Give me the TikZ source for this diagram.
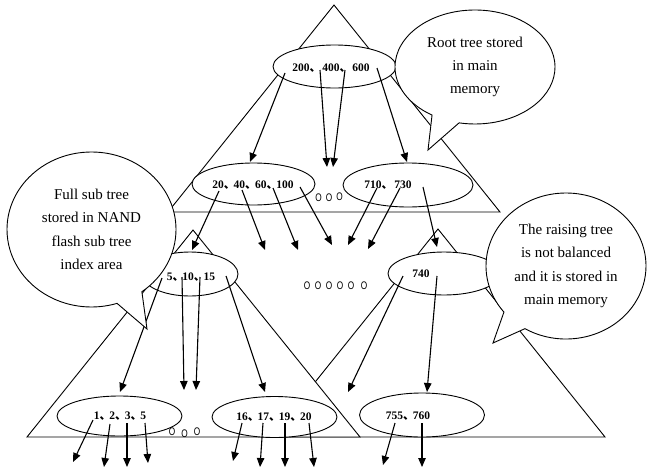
\documentclass[tikz,border=0pt]{standalone}
\usepackage{fontspec}
\setmainfont{Liberation Serif}
\newfontfamily\cjkfont{Noto Sans CJK SC}
\newfontfamily\ringfont{Liberation Sans}
\usetikzlibrary{shapes.geometric,shapes.callouts,arrows.meta}

% enumeration comma between keys
\newcommand{\dn}{{\cjkfont 、}\kern-0.15em}
% small "o" marks standing for omitted nodes
\newcommand{\ring}{\scalebox{0.75}[1]{\ringfont O}}

\tikzset{
  tri/.style={draw, line width=0.9pt, line join=miter, fill=white},
  keynode/.style={ellipse, draw, fill=white, line width=0.9pt, inner sep=0pt},
  num/.style={font=\fontsize{11.5}{13}\selectfont\bfseries, inner sep=0pt},
  link/.style={-{Triangle[length=9pt,width=7.5pt]}, line width=1.1pt},
  note/.style={ellipse callout, draw, fill=white, line width=0.9pt, inner sep=0pt,
    align=center, font=\fontsize{15}{23.3}\selectfont},
  dots/.style={inner sep=0pt, font=\fontsize{11}{13}\selectfont},
}

\begin{document}
\begin{tikzpicture}[x=1pt, y=-1pt]
\useasboundingbox (0,0) rectangle (647,471);

% ---- tree outlines ----
\draw[tri] (334,5) -- (500,212) -- (168,212) -- cycle;      % root tree
\draw[tri] (438,229) -- (605,437) -- (271,437) -- cycle;    % raising tree
\draw[tri] (193,230) -- (360,437) -- (27,437) -- cycle;     % full sub tree

% ---- index nodes ----
\node[keynode, minimum width=123pt, minimum height=43pt] (root) at (334.5,66.5) {};
\node[keynode, minimum width=123pt, minimum height=42pt] (lft)  at (253.5,184) {};
\node[keynode, minimum width=130pt, minimum height=44pt] (rgt)  at (408,185) {};
\node[keynode, minimum width=96pt,  minimum height=44pt] (sub)  at (190,274) {};
\node[keynode, minimum width=112pt, minimum height=43pt] (rai)  at (444,273.5) {};
\node[keynode, minimum width=125pt, minimum height=40pt] (lfa)  at (119.5,416) {};
\node[keynode, minimum width=125pt, minimum height=41pt] (lfb)  at (274.5,417) {};
\node[keynode, minimum width=125pt, minimum height=44pt] (lfc)  at (422,415) {};

% ---- key labels ----
\node[num] (rootkeys) at (331,68)  {200\dn\ 400\dn\ 600};
\node[num] (lftkeys)  at (253,185) {20\dn 40\dn 60\dn 100};
\node[num] (rgtkeys)  at (388,185) {710\dn\ 730};
\node[num] (subkeys)  at (191,277) {5\dn 10\dn 15};
\node[num] (raikeys)  at (421,274) {740};
\node[num] (lfakeys)  at (120,416) {1\dn 2\dn 3\dn 5};
\node[num] (lfbkeys)  at (274,417) {16\dn 17\dn 19\dn 20};
\node[num] (lfckeys)  at (408,416) {755\dn 760};

% ---- pointer start / end points ----
\coordinate (r1s) at (285,73);   \coordinate (r1e) at (250,162);
\coordinate (r2s) at (320,70);   \coordinate (r2e) at (327,167);
\coordinate (r3s) at (345,70);   \coordinate (r3e) at (333,167);
\coordinate (r4s) at (377,68);   \coordinate (r4e) at (407,162);

\coordinate (a1s) at (219,191);  \coordinate (a1e) at (192,250);
\coordinate (a2s) at (242,190);  \coordinate (a2e) at (265,250);
\coordinate (a3s) at (273,188);  \coordinate (a3e) at (298,250);
\coordinate (a4s) at (300,187);  \coordinate (a4e) at (332,245);
\coordinate (b1s) at (377,188);  \coordinate (b1e) at (348,245);
\coordinate (b2s) at (400,188);  \coordinate (b2e) at (368,249);
\coordinate (b3s) at (423,187);  \coordinate (b3e) at (437,247);

\coordinate (c1s) at (162,278);  \coordinate (c1e) at (120,392);
\coordinate (c2s) at (182,277);  \coordinate (c2e) at (184,390);
\coordinate (c3s) at (200,277);  \coordinate (c3e) at (196,390);
\coordinate (c4s) at (226,276);  \coordinate (c4e) at (265,392);
\coordinate (d1s) at (403,276);  \coordinate (d1e) at (348,392);
\coordinate (d2s) at (437,276);  \coordinate (d2e) at (427,392);

\coordinate (e1s) at (93,420);   \coordinate (e1e) at (73,462);
\coordinate (e2s) at (110,424);  \coordinate (e2e) at (104,467);
\coordinate (e3s) at (127,423);  \coordinate (e3e) at (127,467);
\coordinate (e4s) at (145,423);  \coordinate (e4e) at (148,463);
\coordinate (f1s) at (242,423);  \coordinate (f1e) at (233,461);
\coordinate (f2s) at (263,423);  \coordinate (f2e) at (260,467);
\coordinate (f3s) at (285,423);  \coordinate (f3e) at (285,467);
\coordinate (f4s) at (309,423);  \coordinate (f4e) at (314,467);
\coordinate (g1s) at (395,423);  \coordinate (g1e) at (383,465);
\coordinate (g2s) at (422,423);  \coordinate (g2e) at (422,467);

% ---- child pointers ----
\foreach \p in {r1,r2,r3,r4,a1,a2,a3,a4,b1,b2,b3,c1,c2,c3,c4,d1,d2,
                e1,e2,e3,e4,f1,f2,f3,f4,g1,g2}
  \draw[link] (\p s) -- (\p e);

% ---- omitted siblings ----
\node[dots] (gapa) at (329,197) {\ring\hspace{4.1pt}\ring\hspace{4.1pt}\raisebox{0.8pt}{\ring}};
\node[dots] (gapb) at (335.5,286) {\ring\hspace{4.6pt}\ring\hspace{4.6pt}\ring\hspace{4.6pt}\ring\hspace{4.6pt}\ring\hspace{6.6pt}\ring};
\node[dots] (gapc) at (184.5,433) {\ring\hspace{6.1pt}\raisebox{-1.8pt}{\ring}\hspace{6.1pt}\ring};

% ---- annotations ----
\node[note, minimum width=160pt, minimum height=114pt, callout pointer arc=21,
      callout absolute pointer={(428,150)}] (rootnote) at (475,67)
  {Root tree stored\\in main\\memory};
\node[note, minimum width=169pt, minimum height=155pt, callout pointer arc=19,
      callout absolute pointer={(147,329)}] (subnote) at (91.5,229.5)
  {Full sub tree\\stored in NAND\\flash sub tree\\index area};
\node[note, minimum width=160pt, minimum height=146pt, callout pointer arc=20,
      callout absolute pointer={(493,343)}] (rainote) at (566,266)
  {The raising tree\\is not balanced\\and it is stored in\\main memory};
\end{tikzpicture}
\end{document}
